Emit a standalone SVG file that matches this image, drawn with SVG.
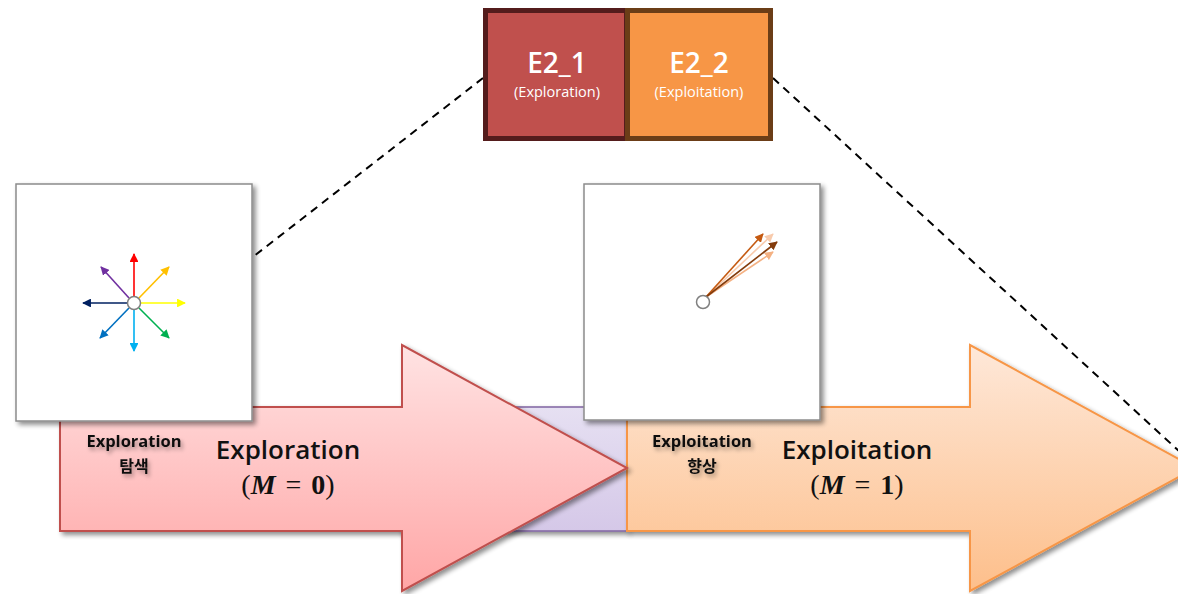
<svg xmlns="http://www.w3.org/2000/svg" width="1178" height="594" viewBox="0 0 1178 594">
  <style>
    .lbl { font-family: "Open Sans", "Noto Sans CJK KR", sans-serif; text-anchor: middle; }
    .box-title { fill: #ffffff; font-size: 28px; font-weight: 600; }
    .box-sub { fill: #ffffff; font-size: 14.5px; font-weight: 500; }
    .small { fill: #111111; font-size: 16.5px; font-weight: 700; }
    .ko { font-family: "Noto Sans CJK KR", sans-serif; font-weight: 700; font-size: 16px; fill: #111111; text-anchor: middle; }
    .big { fill: #111111; font-size: 26px; font-weight: 600; }
    .math { font-family: "Liberation Serif", serif; font-size: 28px; fill: #111111; text-anchor: middle; }
    .panel { fill: #ffffff; stroke: #8c8c8c; stroke-width: 1.5; }
    .dash { fill: none; stroke: #000000; stroke-width: 2; stroke-dasharray: 8 6; }
  </style>
  <defs>
    <linearGradient id="gPink" x1="0" y1="0" x2="0" y2="1">
      <stop offset="0" stop-color="#ffe3e3"/>
      <stop offset="1" stop-color="#ffa6a6"/>
    </linearGradient>
    <linearGradient id="gOrange" x1="0" y1="0" x2="0" y2="1">
      <stop offset="0" stop-color="#fee8d9"/>
      <stop offset="1" stop-color="#fdbf8b"/>
    </linearGradient>
    <linearGradient id="gPurple" x1="0" y1="0" x2="0" y2="1">
      <stop offset="0" stop-color="#e6e0f2"/>
      <stop offset="1" stop-color="#d5c8e8"/>
    </linearGradient>
    <filter id="shadow" x="-10%" y="-10%" width="130%" height="130%">
      <feGaussianBlur in="SourceAlpha" stdDeviation="2.5"/>
      <feOffset dx="3" dy="3" result="b"/>
      <feComponentTransfer><feFuncA type="linear" slope="0.45"/></feComponentTransfer>
      <feMerge><feMergeNode/><feMergeNode in="SourceGraphic"/></feMerge>
    </filter>
    <filter id="glow" x="-20%" y="-30%" width="140%" height="170%">
      <feGaussianBlur in="SourceAlpha" stdDeviation="2"/>
      <feOffset dx="2" dy="3"/>
      <feComponentTransfer><feFuncA type="linear" slope="0.35"/></feComponentTransfer>
      <feMerge><feMergeNode/><feMergeNode in="SourceGraphic"/></feMerge>
    </filter>
    <marker id="ah" viewBox="0 0 10 10" refX="9" refY="5" markerWidth="5.5" markerHeight="5.5" orient="auto" markerUnits="strokeWidth">
      <path d="M0,0 L10,5 L0,10 z" fill="context-stroke"/>
    </marker>
  </defs>

  <!-- zoom guide lines from the E2 block down to the stages -->
  <g id="connectors">
    <line class="dash" x1="483" y1="78" x2="240" y2="267"/>
    <line class="dash" x1="773" y1="78" x2="1180" y2="452"/>
  </g>

  <!-- transition band between the two stages -->
  <g id="band">
    <rect x="400" y="407" width="227" height="124" fill="url(#gPurple)" stroke="#8064a2" stroke-width="1.5" filter="url(#shadow)"/>
  </g>

  <!-- exploitation stage arrow -->
  <g id="arrow-exploitation">
    <path d="M627,407 H970 V345 L1195,468 L970,591 V531 H627 Z" fill="url(#gOrange)" stroke="#f79646" stroke-width="2" filter="url(#shadow)"/>
  </g>

  <!-- exploration stage arrow -->
  <g id="arrow-exploration">
    <path d="M60,407 H402 V345 L627,468 L402,591 V531 H60 Z" fill="url(#gPink)" stroke="#c0504d" stroke-width="2" filter="url(#shadow)"/>
  </g>

  <!-- exploration panel: arrows in every direction -->
  <g id="panel-exploration">
    <rect class="panel" x="16" y="184" width="236" height="237" filter="url(#shadow)"/>
    <g stroke-width="1.6" marker-end="url(#ah)">
      <line x1="134" y1="296" x2="134" y2="254" stroke="#ff0000"/>
      <line x1="139" y1="298" x2="169" y2="267" stroke="#ffc000"/>
      <line x1="141" y1="303" x2="185" y2="303" stroke="#ffff00"/>
      <line x1="139" y1="308" x2="169" y2="338" stroke="#00b050"/>
      <line x1="134" y1="310" x2="134" y2="351" stroke="#00b0f0"/>
      <line x1="129" y1="308" x2="100" y2="338" stroke="#0070c0"/>
      <line x1="127" y1="303" x2="83" y2="303" stroke="#002060"/>
      <line x1="129" y1="298" x2="101" y2="267" stroke="#7030a0"/>
    </g>
    <circle cx="134" cy="303" r="6.5" fill="#ffffff" stroke="#808080" stroke-width="1.5"/>
  </g>

  <!-- exploitation panel: arrows converging on one direction -->
  <g id="panel-exploitation">
    <rect class="panel" x="584" y="184" width="236" height="236" filter="url(#shadow)"/>
    <g stroke-width="1.6" marker-end="url(#ah)">
      <line x1="706" y1="297" x2="773" y2="252" stroke="#f4b183"/>
      <line x1="706" y1="297" x2="773" y2="234" stroke="#f8cbad"/>
      <line x1="706" y1="297" x2="763" y2="234" stroke="#c55a11"/>
      <line x1="706" y1="297" x2="777" y2="242" stroke="#843c0c"/>
    </g>
    <circle cx="703" cy="302" r="6.5" fill="#ffffff" stroke="#808080" stroke-width="1.5"/>
  </g>

  <!-- E2 block: two halves -->
  <g id="e2-1">
    <rect x="485.5" y="10.5" width="141" height="128" fill="#c0504d" stroke="#541c1c" stroke-width="5"/>
    <text class="lbl box-title" x="557" y="73">E2_1</text>
    <text class="lbl box-sub" x="557" y="97">(Exploration)</text>
  </g>
  <g id="e2-2">
    <rect x="627.5" y="10.5" width="143" height="128" fill="#f79646" stroke="#6b3d17" stroke-width="5"/>
    <text class="lbl box-title" x="699" y="73">E2_2</text>
    <text class="lbl box-sub" x="699" y="97">(Exploitation)</text>
  </g>

  <!-- stage labels -->
  <g id="label-exploration">
    <g filter="url(#glow)">
      <text class="lbl small" x="134" y="447">Exploration</text>
      <text class="ko" x="134" y="472">탐색</text>
    </g>
    <text class="lbl big" x="288" y="459">Exploration</text>
    <text class="math" x="288" y="494">(<tspan font-style="italic" font-weight="700">M</tspan><tspan dx="10">=</tspan><tspan dx="10" font-weight="700">0</tspan>)</text>
  </g>
  <g id="label-exploitation">
    <g filter="url(#glow)">
      <text class="lbl small" x="702" y="447">Exploitation</text>
      <text class="ko" x="702" y="472">향상</text>
    </g>
    <text class="lbl big" x="857" y="459">Exploitation</text>
    <text class="math" x="857" y="494">(<tspan font-style="italic" font-weight="700">M</tspan><tspan dx="10">=</tspan><tspan dx="10" font-weight="700">1</tspan>)</text>
  </g>
</svg>
